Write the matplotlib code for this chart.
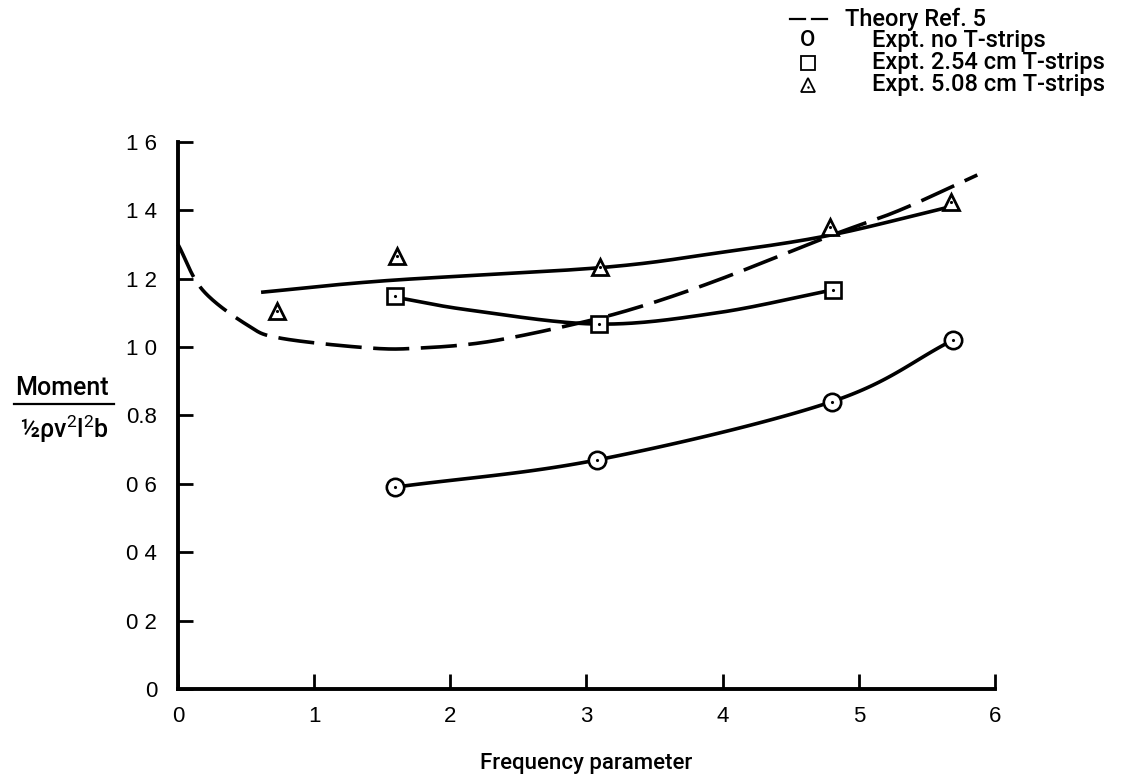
import numpy as np
import matplotlib
matplotlib.use("Agg")
import matplotlib.pyplot as plt
from matplotlib.lines import Line2D
from matplotlib import font_manager as fm

# ---------------- data ----------------
freq_circle = [1.59, 3.08, 4.80, 5.69]
moment_circle = [0.59, 0.67, 0.84, 1.02]

freq_square = [1.59, 3.09, 4.81]
moment_square = [1.15, 1.067, 1.167]

freq_tri = [0.73, 1.61, 3.10, 4.79, 5.68]
moment_tri = [1.105, 1.265, 1.235, 1.352, 1.425]

# faired curves drawn on the original (knots)
theory_x = [0.0, 0.18, 0.51, 0.75, 1.41, 1.78, 2.27, 2.88, 3.37, 3.96, 4.79, 5.30, 5.87]
theory_y = [1.30, 1.167, 1.064, 1.026, 0.997, 0.997, 1.015, 1.064, 1.115, 1.195, 1.325, 1.40, 1.503]

tri_fit_x = [0.61, 1.53, 3.10, 3.96, 4.79, 5.67]
tri_fit_y = [1.16, 1.194, 1.232, 1.275, 1.327, 1.41]

sq_fit_x = [1.59, 2.14, 3.09, 3.96, 4.81]
sq_fit_y = [1.146, 1.108, 1.067, 1.10, 1.167]

circ_fit_x = freq_circle
circ_fit_y = moment_circle

xticks = [0, 1, 2, 3, 4, 5, 6]
xticklabels = ["0", "1", "2", "3", "4", "5", "6"]
yticks = [0, 0.2, 0.4, 0.6, 0.8, 1.0, 1.2, 1.4, 1.6]
yticklabels = ["0", "0 2", "0 4", "0 6", "0.8", "1 0", "1 2", "1 4", "1 6"]

legend_labels = ["Theory Ref. 5", "Expt. no T-strips", "Expt. 2.54 cm T-strips", "Expt. 5.08 cm T-strips"]

# ---------------- helpers ----------------
W, H = 1125, 783


def fx(x):
    return x / W


def fy(y):
    return 1 - y / H


def catmull(xs, ys, n=40):
    P = np.column_stack([xs, ys]).astype(float)
    P = np.vstack([2 * P[0] - P[1], P, 2 * P[-1] - P[-2]])
    out = []
    t = np.linspace(0, 1, n, endpoint=False)[:, None]
    for i in range(1, len(P) - 2):
        p0, p1, p2, p3 = P[i - 1], P[i], P[i + 1], P[i + 2]
        seg = 0.5 * ((2 * p1) + (-p0 + p2) * t + (2 * p0 - 5 * p1 + 4 * p2 - p3) * t ** 2
                     + (-p0 + 3 * p1 - 3 * p2 + p3) * t ** 3)
        out.append(seg)
    out.append(P[-2][None, :])
    c = np.vstack(out)
    return c[:, 0], c[:, 1]


avail = {f.name for f in fm.fontManager.ttflist}
main_font = "Liberation Sans" if "Liberation Sans" in avail else "DejaVu Sans"
label_font = "Roboto" if "Roboto" in avail else main_font
narrow_font = "Liberation Sans Narrow" if "Liberation Sans Narrow" in avail else main_font
plt.rcParams["font.family"] = [main_font, "DejaVu Sans"]
plt.rcParams["mathtext.fontset"] = "custom"
plt.rcParams["mathtext.rm"] = label_font
plt.rcParams["mathtext.it"] = label_font
plt.rcParams["mathtext.bf"] = label_font
TW = "medium"

fig = plt.figure(figsize=(W / 100, H / 100), dpi=100)
ax = fig.add_axes([fx(178), fy(689), (995 - 178) / W, (689 - 141.8) / H])
ax.set_xlim(0, 6)
ax.set_ylim(0, 1.6)

for s in ["top", "right"]:
    ax.spines[s].set_visible(False)
for s in ["left", "bottom"]:
    ax.spines[s].set_linewidth(2.8)
    ax.spines[s].set_capstyle("projecting")

ax.set_xticks(xticks)
ax.set_xticklabels(xticklabels)
ax.set_yticks(yticks)
ax.set_yticklabels(yticklabels)
ax.tick_params(axis="both", direction="in", length=10.5, width=2.0, color="black",
               labelsize=16)
ax.tick_params(axis="y", pad=15)
ax.tick_params(axis="x", pad=12)
for lab in ax.get_xticklabels() + ax.get_yticklabels():
    lab.set_family([narrow_font, "DejaVu Sans"])

lw = 2.6
# theory (dashed)
tx, ty = catmull(theory_x, theory_y)
ax.plot(tx, ty, color="black", lw=lw, dashes=(10, 3.2), dash_capstyle="butt",
        clip_on=False, zorder=2)
# faired experimental curves
for cx, cy in [(tri_fit_x, tri_fit_y), (sq_fit_x, sq_fit_y), (circ_fit_x, circ_fit_y)]:
    sx, sy = catmull(cx, cy)
    ax.plot(sx, sy, color="black", lw=lw, solid_capstyle="butt", clip_on=False, zorder=2)

# markers
ax.plot(freq_circle, moment_circle, "o", ms=12.5, mfc="white", mec="black", mew=1.9,
        ls="none", zorder=4, clip_on=False)
ax.plot(freq_square, moment_square, "s", ms=11.5, mfc="white", mec="black", mew=1.9,
        ls="none", zorder=4, clip_on=False)
ax.plot(freq_tri, moment_tri, "^", ms=11, mfc="white", mec="black", mew=2.0,
        ls="none", zorder=4, clip_on=False)
for fxs, fys in [(freq_circle, moment_circle), (freq_square, moment_square), (freq_tri, moment_tri)]:
    ax.plot(fxs, fys, ".", ms=2.5, color="black", ls="none", zorder=5, clip_on=False)

# axis title
fig.text(fx(586), fy(763), "Frequency parameter", ha="center", va="center", fontsize=16,
         family=[label_font, "DejaVu Sans"], weight=TW)

# y label as a fraction
fig.text(fx(62), fy(388), "Moment", ha="center", va="center", fontsize=18,
         family=[label_font, "DejaVu Sans"], weight=TW)
fig.add_artist(Line2D([fx(14), fx(114)], [fy(404), fy(404)], color="black", lw=1.6))
fig.text(fx(64), fy(429), r"½ρv$^{2}$l$^{2}$b", ha="center", va="center", fontsize=18,
         family=[label_font, "DejaVu Sans"], weight=TW)

# legend
ycent = [19, 41, 63, 85]
fig.add_artist(Line2D([fx(790), fx(805)], [fy(ycent[0]), fy(ycent[0])], color="black", lw=1.6))
fig.add_artist(Line2D([fx(812), fx(827)], [fy(ycent[0]), fy(ycent[0])], color="black", lw=1.6))
fig.text(fx(845), fy(ycent[0]), legend_labels[0], ha="left", va="center", fontsize=17,
         family=[label_font, "DejaVu Sans"], weight=TW)
fig.text(fx(808), fy(ycent[1]), "O", ha="center", va="center", fontsize=16,
         family=[label_font, "DejaVu Sans"], weight=TW)
fig.add_artist(Line2D([fx(808)], [fy(ycent[2])], marker="s", ms=10, mfc="none", mec="black", mew=1.3))
fig.add_artist(Line2D([fx(808)], [fy(ycent[3])], marker="^", ms=10, mfc="none", mec="black", mew=1.3))
fig.add_artist(Line2D([fx(808)], [fy(ycent[3]) - 0.002], marker=".", ms=1.5, color="black"))
for i in range(1, 4):
    fig.text(fx(872), fy(ycent[i]), legend_labels[i], ha="left", va="center", fontsize=17,
             family=[label_font, "DejaVu Sans"], weight=TW)

fig.savefig("out.png", dpi=100, facecolor="white")
